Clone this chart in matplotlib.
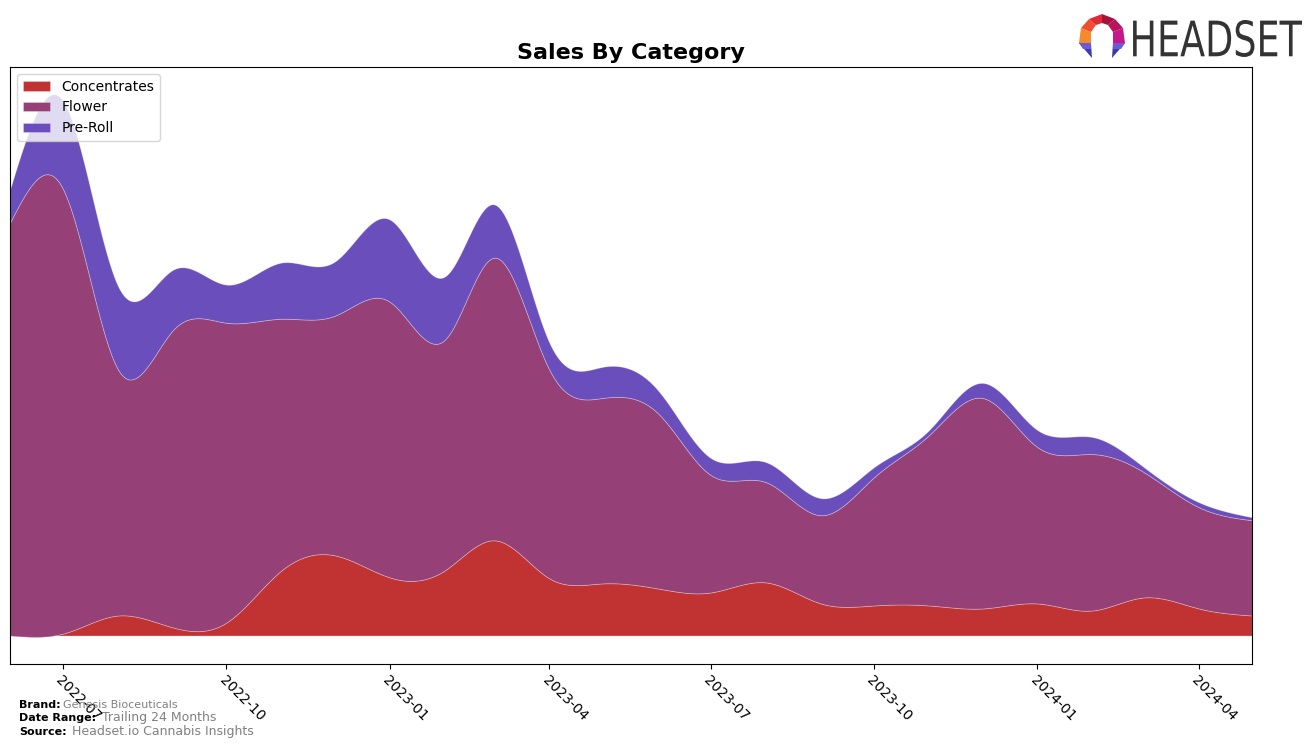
import numpy as np
import pandas as pd
import matplotlib
matplotlib.use("Agg")
import matplotlib.pyplot as plt
import matplotlib.dates as mdates
from matplotlib.patches import Polygon, PathPatch
from matplotlib.textpath import TextPath
from matplotlib.font_manager import FontProperties

# monthly sales by category (arbitrary units)
months = pd.date_range("2022-06-01", "2024-05-01", freq="MS")
concentrates = [0, 2, 20, 8, 13, 65, 80, 58, 65, 95, 57, 52,
                47, 43, 53, 32, 30, 30, 27, 32, 25, 38, 27, 20]
flower = [412, 443, 245, 297, 299, 251, 239, 275, 230, 282, 208, 185,
          175, 117, 100, 88, 128, 170, 210, 156, 156, 125, 101, 95]
pre_roll = [33, 88, 83, 60, 38, 56, 54, 82, 63, 53, 27, 31,
            23, 17, 20, 17, 10, 5, 15, 17, 17, 5, 5, 3]

labels = ["Concentrates", "Flower", "Pre-Roll"]
colors = ["#c13333", "#954177", "#6a4fbc"]


def spline(x, y, xs):
    # natural cubic spline through the monthly points
    x = np.asarray(x, float)
    y = np.asarray(y, float)
    n = len(x)
    h = np.diff(x)
    A = np.zeros((n, n))
    b = np.zeros(n)
    A[0, 0] = 1
    A[-1, -1] = 1
    for i in range(1, n - 1):
        A[i, i - 1] = h[i - 1]
        A[i, i] = 2 * (h[i - 1] + h[i])
        A[i, i + 1] = h[i]
        b[i] = 3 * ((y[i + 1] - y[i]) / h[i] - (y[i] - y[i - 1]) / h[i - 1])
    c = np.linalg.solve(A, b)
    bb = np.diff(y) / h - h * (2 * c[:-1] + c[1:]) / 3
    d = np.diff(c) / (3 * h)
    idx = np.clip(np.searchsorted(x, xs) - 1, 0, n - 2)
    t = xs - x[idx]
    return y[idx] + bb[idx] * t + c[idx] * t ** 2 + d[idx] * t ** 3


xnum = mdates.date2num(months.to_pydatetime())
xs = np.linspace(xnum[0], xnum[-1], 600)
series = [spline(xnum, s, xs) for s in (concentrates, flower, pre_roll)]

fig = plt.figure(figsize=(13.16, 7.48), dpi=100)
ax = fig.add_axes([0.0076, 0.1123, 0.9438, 0.7981])
ax.stackplot(mdates.num2date(xs), *series, labels=labels, colors=colors,
             edgecolor=(1, 1, 1, 0.3), linewidth=0.6)
ax.set_xlim(mdates.num2date(xnum[0]), mdates.num2date(xnum[-1]))
ax.set_yticks([])
ax.xaxis.set_major_locator(mdates.MonthLocator(bymonth=[1, 4, 7, 10]))
ax.xaxis.set_major_formatter(mdates.DateFormatter("%Y-%m"))
plt.setp(ax.get_xticklabels(), rotation=-45, ha="left", rotation_mode="anchor", fontsize=10)
ax.set_title("Sales By Category", fontsize=16, fontweight="bold")
ax.legend(loc="upper left", fontsize=10)

# footer
fig.text(0.0145, 0.053, "Brand:", fontsize=8, fontweight="bold")
fig.text(0.048, 0.053, "Genesis Bioceuticals", fontsize=8, color="grey")
fig.text(0.0145, 0.0355, "Date Range:", fontsize=8, fontweight="bold")
fig.text(0.0775, 0.0355, "Trailing 24 Months", fontsize=9, color="grey")
fig.text(0.0145, 0.018, "Source:", fontsize=8, fontweight="bold")
fig.text(0.0545, 0.018, "Headset.io Cannabis Insights", fontsize=9, color="grey")

# logo wordmark, squeezed into its box
tp = TextPath((0, 0), "HEADSET", size=1, prop=FontProperties(family="DejaVu Sans"))
ext = tp.get_extents()
wax = fig.add_axes([0.861, 0.9238, 0.1284, 0.0495])
wax.set_xlim(ext.x0, ext.x1)
wax.set_ylim(ext.y0, ext.y1)
wax.axis("off")
wax.add_patch(PathPatch(tp, color="#333333", lw=0))

# logo icon
lax = fig.add_axes([0.8161, 0.9144, 0.04255, 0.0722])
lax.set_xlim(0, 56)
lax.set_ylim(54, 0)
lax.axis("off")
P = [(5, 33), (7, 18), (15, 9), (28, 4), (41, 9), (49, 18), (51, 33)]
Q = [(17, 33), (17, 22), (22, 15), (28, 13), (34, 15), (39, 22), (39, 33)]
ring_cols = ["#f58a2a", "#ef4f30", "#e02a3a", "#a8103e", "#b8145c", "#c5168a"]
for i, col in enumerate(ring_cols):
    lax.add_patch(Polygon([P[i], P[i + 1], Q[i + 1], Q[i]], closed=True, color=col, lw=0))
lax.add_patch(Polygon([(5, 33), (17, 33), (18, 48)], closed=True, color="#3c3ca8", lw=0))
lax.add_patch(Polygon([(5, 33), (17, 33), (17, 39), (9, 39)], closed=True, color="#6a5ad8", lw=0))
lax.add_patch(Polygon([(51, 33), (39, 33), (38, 48)], closed=True, color="#3c3ca8", lw=0))
lax.add_patch(Polygon([(51, 33), (39, 33), (39, 39), (47, 39)], closed=True, color="#6a5ad8", lw=0))

fig.savefig("out.png", dpi=100)
